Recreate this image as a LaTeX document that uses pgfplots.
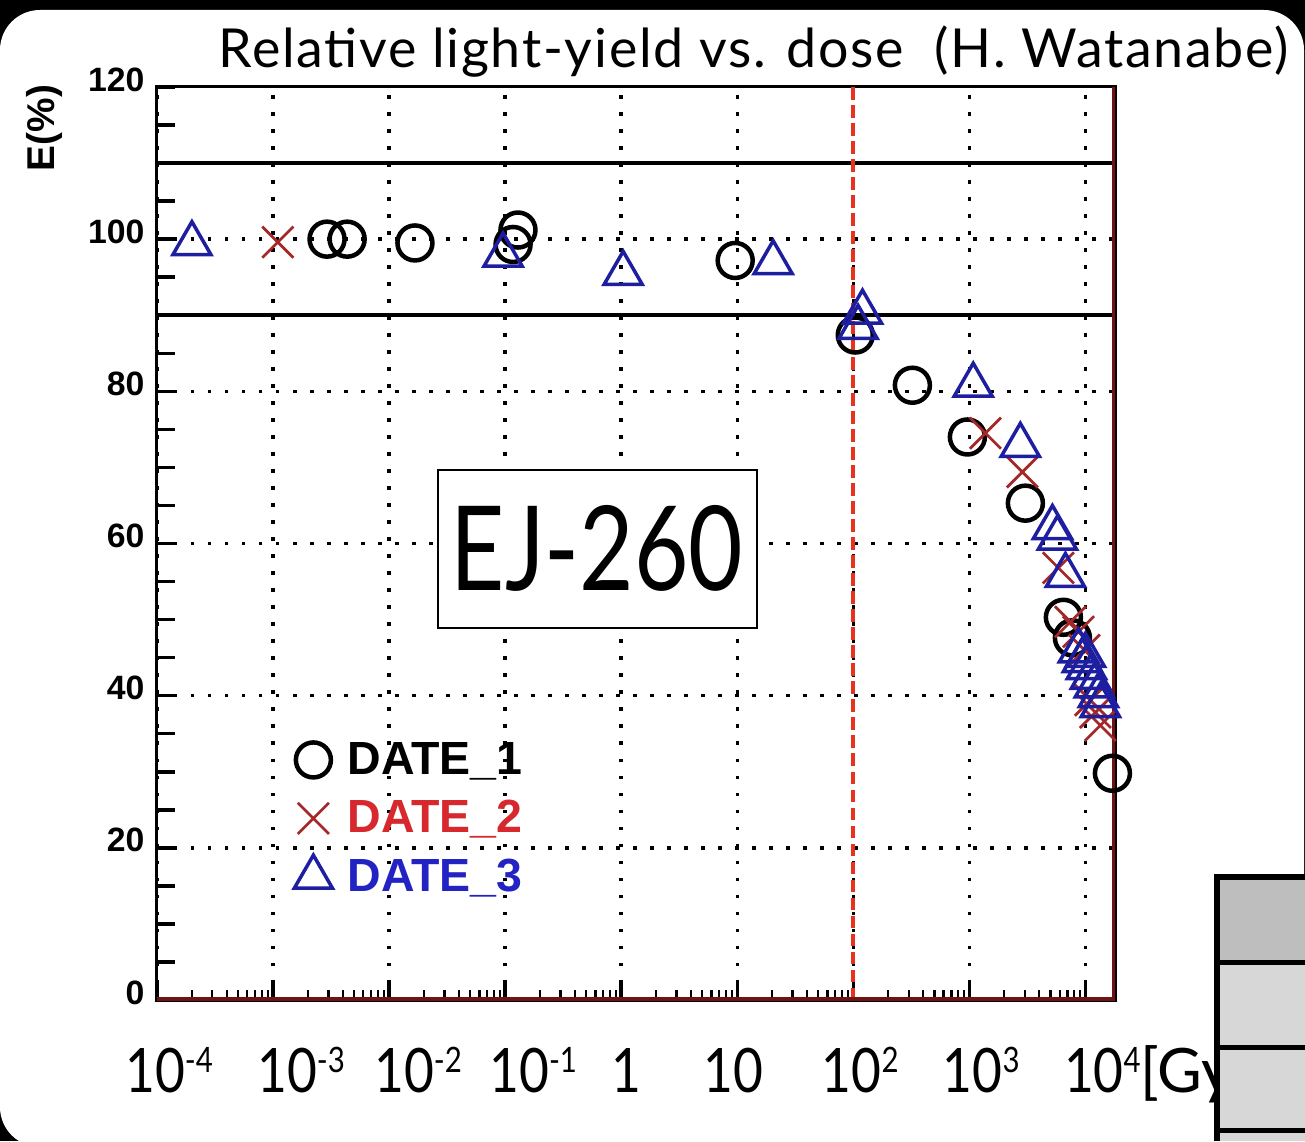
\documentclass[border=0pt]{standalone}
\usepackage{pgfplots}
\pgfplotsset{compat=1.18}
\usepackage{fontspec}
\setmainfont{Lato}
\newfontfamily\gill{Lato}
\newfontfamily\arialb{Liberation Sans}
\definecolor{dtwo}{RGB}{165,40,40}
\definecolor{dtwotext}{RGB}{215,40,45}
\definecolor{dthree}{RGB}{30,30,160}
\definecolor{dthreetext}{RGB}{35,35,195}
\definecolor{maroon}{RGB}{110,20,20}
\definecolor{dashred}{RGB}{230,50,30}
\definecolor{cellA}{RGB}{190,190,190}
\definecolor{cellB}{RGB}{215,215,215}
\newcommand\xl[1]{\scalebox{0.84}[1]{#1}}
\newcommand\sx[1]{\raisebox{7.8pt}{\fontsize{14}{14}\selectfont #1}}
\begin{document}
\begin{tikzpicture}[x=0.4pt,y=0.4pt]
\useasboundingbox (0,0) rectangle (1305,1141);
\fill[black] (0,0) rectangle (1305,1141);
\fill[white, rounded corners=16pt] (0,-6) rectangle (1304,1131);
\begin{axis}[
  at={(62.8pt,56.4pt)}, anchor=south west,
  width=383.2pt, height=365.2pt, scale only axis,
  xmode=log, xmin=1e-4, xmax=1.8e4, ymin=0, ymax=120,
  axis line style={line width=1.2pt},
  tick pos=left, tick align=inside,
  major tick length=7.2pt, minor tick length=4pt,
  major tick style={line width=1.4pt, black},
  minor tick style={line width=0.9pt, black},
  xtick={1e-4,1e-3,1e-2,1e-1,1,10,100,1000,10000},
  xticklabels={\hspace*{9.6pt}\xl{10\sx{-4}},
               \hspace*{22.4pt}\xl{10\sx{-3}},
               \hspace*{23.2pt}\xl{10\sx{-2}},
               \hspace*{22.4pt}\xl{10\sx{-1}},
               \hspace*{4pt}\xl{1},
               \hspace*{-3.2pt}\xl{10},
               \hspace*{5.6pt}\xl{10\sx{2}},
               \hspace*{9.6pt}\xl{10\sx{3}},
               \hspace*{13.6pt}\xl{10\sx{4}}\rlap{[Gy]}},
  xticklabel style={font=\gill\fontsize{24.5}{28}\selectfont, anchor=base, yshift=-36.8pt},
  ytick={0,5,...,120},
  yticklabels={0,,,,20,,,,40,,,,60,,,,80,,,,100,,,,120},
  yticklabel style={font=\arialb\bfseries\fontsize{13.5}{15}\selectfont, yshift=3pt, xshift=-1.5pt},
  xmajorgrids,
  major grid style={black, line width=1.4pt, dash pattern=on 1.4pt off 5.4pt},
  extra y ticks={20,40,60,80,100},
  extra y tick labels={{},{},{},{},{}},
  extra y tick style={grid=major, major tick length=0pt},
  ylabel={E(\%)},
  ylabel style={font=\arialb\bfseries\fontsize{15.5}{17}\selectfont, at={(axis description cs:-0.117,0.955)}, anchor=center, rotate=0},
  legend style={at={(axis description cs:0.135,0.294)}, anchor=north west, draw=none, fill=none,
    font=\arialb\bfseries\fontsize{18.6}{22}\selectfont, row sep=5pt,
    /tikz/every odd column/.append style={column sep=4pt}},
  legend cell align=left,
]
% DATE_1
\addplot[only marks, mark=o, mark size=7pt, line width=1.8pt, black] coordinates {
 (2.92e-3,100.0) (4.35e-3,100.0) (0.0167,99.5) (0.129,101.2) (0.117,99.3)
 (9.6,97.2) (104,87.4) (323,80.8) (962,74.0) (3040,65.3) (6460,50.3)
 (7730,47.6) (17100,29.8)
};
\addlegendentry{DATE\_1}
% DATE_2
\addplot[only marks, mark=x, mark size=8.8pt, line width=1.1pt, dtwo] coordinates {
 (1.10e-3,99.6) (1375,74.5) (2865,69.4) (5850,56.8) (7430,49.7) (8710,48.4)
 (9800,46.0) (11040,39.4) (12200,37.8) (13460,36.1)
};
\addlegendentry{\textcolor{dtwotext}{DATE\_2}}
% DATE_3
\addplot[only marks, mark=triangle, mark size=8.8pt, line width=1.4pt, dthree] coordinates {
 (2.0e-4,99.4) (0.096,97.9) (1.04,95.5) (20.4,96.9) (120,90.4) (110,88.4)
 (1080,80.8) (2750,72.9) (5200,62.1) (5740,60.7) (6730,55.8) (8710,45.9)
 (9420,44.6) (10000,45.3) (10200,43.7) (11040,42.4) (11960,41.3) (12950,40.0)
 (13460,38.7)
};
\addlegendentry{\textcolor{dthreetext}{DATE\_3}}
% reference lines
\draw[black, line width=1.4pt] (axis cs:1e-4,110) -- (axis cs:1.8e4,110);
\draw[black, line width=1.4pt] (axis cs:1e-4,90) -- (axis cs:1.8e4,90);
\draw[dashred, line width=1.6pt, dash pattern=on 5pt off 2.2pt] (axis cs:100,0) -- (axis cs:100,120);
\draw[maroon, line width=2.2pt] (rel axis cs:1,0) -- (rel axis cs:1,1);
\draw[maroon, line width=2.4pt] (rel axis cs:0,0) -- (rel axis cs:1,0);
\end{axis}
% title
\node[anchor=base west, inner sep=0pt, font=\gill\fontsize{21.5}{25}\selectfont] at (218,1073)
  {\addfontfeatures{LetterSpace=3.2}Relative light-yield vs. dose\ \ (H. Watanabe)};
% EJ-260 box
\draw[fill=white, line width=0.8pt] (438,513) rectangle (757,671);
\node[anchor=base, inner sep=0pt, font=\gill\fontsize{47}{52}\selectfont] at (597,551) {\scalebox{0.8}[1]{EJ-260}};
% table fragment
\fill[cellA] (1217,264) rectangle (1305,179);
\fill[cellB] (1217,179) rectangle (1305,0);
\draw[black, line width=2.2pt] (1305,264) -- (1217,264) -- (1217,0);
\draw[black, line width=2pt] (1217,179) -- (1305,179);
\draw[black, line width=2pt] (1217,94) -- (1305,94);
\draw[black, line width=2pt] (1217,11) -- (1305,11);
\end{tikzpicture}
\end{document}
